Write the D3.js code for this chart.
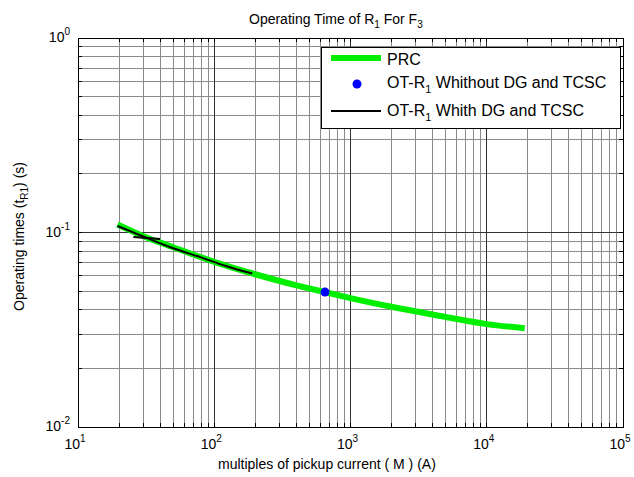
<!DOCTYPE html>
<html>
<head>
<meta charset="utf-8">
<script src="https://cdn.jsdelivr.net/npm/d3@7"></script>
<style>
  body { margin: 0; background: #fff; }
  text { font-family: Arial, "Liberation Sans", sans-serif; fill: #000; }
</style>
</head>
<body>
<svg id="chart" width="634" height="477"></svg>
<script>
// chart values
var prcCurrent = [19.5, 30, 50, 100, 200, 400, 650, 1000, 2000, 5000, 10000, 19000];
var prcTime = [0.110, 0.096, 0.084, 0.0707, 0.061, 0.0535, 0.0494, 0.046, 0.0415, 0.0368, 0.0338, 0.0322];

var noDgCurrent = [650];
var noDgTime = [0.0494];

var withDgCurrent = [19.5, 30, 50, 80, 120, 190];
var withDgTime = [0.108, 0.0955, 0.083, 0.0745, 0.0675, 0.0615];
var withDgStrayCurrent = [25.5, 40];
var withDgStrayTime = [0.0948, 0.0926];

var xTickExp = [1, 2, 3, 4, 5];
var yTickExp = [0, -1, -2];

(function() {
  var svg = d3.select('#chart');
  var pLeft = 78, pRight = 623, pTop = 38, pBottom = 427;

  var x = d3.scaleLog().domain([10, 1e5]).range([pLeft, pRight]);
  var y = d3.scaleLog().domain([0.01, 1]).range([pBottom, pTop]);

  function pairs(xs, ys) { return xs.map(function(v, i) { return [v, ys[i]]; }); }

  // minor + major values for grid
  var xMinor = [], yMinor = [];
  for (var e = 1; e < 5; e++) for (var k = 2; k < 10; k++) xMinor.push(k * Math.pow(10, e));
  for (var e2 = -2; e2 < 0; e2++) for (var k2 = 2; k2 < 10; k2++) yMinor.push(k2 * Math.pow(10, e2));
  var xMajor = xTickExp.map(function(d) { return Math.pow(10, d); });
  var yMajor = yTickExp.map(function(d) { return Math.pow(10, d); });

  var grid = svg.append('g').attr('class', 'grid').style('shape-rendering', 'crispEdges');
  grid.selectAll('.gx-minor').data(xMinor).enter().append('line')
    .attr('x1', x).attr('x2', x).attr('y1', pTop).attr('y2', pBottom)
    .style('stroke', '#8a8a8a');
  grid.selectAll('.gy-minor').data(yMinor).enter().append('line')
    .attr('x1', pLeft).attr('x2', pRight).attr('y1', y).attr('y2', y)
    .style('stroke', '#8a8a8a');
  grid.selectAll('.gx-major').data(xMajor).enter().append('line')
    .attr('x1', x).attr('x2', x).attr('y1', pTop).attr('y2', pBottom)
    .style('stroke', '#333');
  grid.selectAll('.gy-major').data(yMajor).enter().append('line')
    .attr('x1', pLeft).attr('x2', pRight).attr('y1', y).attr('y2', y)
    .style('stroke', '#333');

  // ticks on all four sides, pointing inward
  var tl = 4;
  var ticks = svg.append('g').style('stroke', '#000').style('shape-rendering', 'crispEdges');
  var allX = xMinor.concat(xMajor), allY = yMinor.concat(yMajor);
  ticks.selectAll('.tb').data(allX).enter().append('line')
    .attr('x1', x).attr('x2', x).attr('y1', pBottom).attr('y2', pBottom - tl);
  ticks.selectAll('.tt').data(allX).enter().append('line')
    .attr('x1', x).attr('x2', x).attr('y1', pTop).attr('y2', pTop + tl);
  ticks.selectAll('.tl').data(allY).enter().append('line')
    .attr('x1', pLeft).attr('x2', pLeft + tl).attr('y1', y).attr('y2', y);
  ticks.selectAll('.tr').data(allY).enter().append('line')
    .attr('x1', pRight).attr('x2', pRight - tl).attr('y1', y).attr('y2', y);

  // series
  var line = d3.line().x(function(d) { return x(d[0]); }).y(function(d) { return y(d[1]); })
    .curve(d3.curveMonotoneX);

  svg.append('path').datum(pairs(prcCurrent, prcTime))
    .attr('d', line).style('fill', 'none').style('stroke', '#00ee00').style('stroke-width', 6);

  svg.append('path').datum(pairs(withDgCurrent, withDgTime))
    .attr('d', line).style('fill', 'none').style('stroke', '#000').style('stroke-width', 2);
  svg.append('path').datum(pairs(withDgStrayCurrent, withDgStrayTime))
    .attr('d', line).style('fill', 'none').style('stroke', '#000').style('stroke-width', 2);

  svg.selectAll('.dot').data(pairs(noDgCurrent, noDgTime)).enter().append('circle')
    .attr('cx', function(d) { return x(d[0]); }).attr('cy', function(d) { return y(d[1]); })
    .attr('r', 4.5).style('fill', '#0000ff');

  // frame
  svg.append('rect').attr('x', pLeft).attr('y', pTop).attr('width', pRight - pLeft).attr('height', pBottom - pTop)
    .style('fill', 'none').style('stroke', '#000').style('shape-rendering', 'crispEdges');

  // tick labels
  var xl = svg.selectAll('.xl').data(xTickExp).enter().append('text')
    .attr('x', function(d) { return x(Math.pow(10, d)) - 3; }).attr('y', pBottom + 22)
    .attr('text-anchor', 'middle').style('font-size', '14px');
  xl.append('tspan').text('10');
  xl.append('tspan').attr('dy', -7).style('font-size', '10px').text(function(d) { return d; });

  var yl = svg.selectAll('.yl').data(yTickExp).enter().append('text')
    .attr('x', pLeft - 8).attr('y', function(d) { return y(Math.pow(10, d)) + 4; })
    .attr('text-anchor', 'end').style('font-size', '14px');
  yl.append('tspan').text('10');
  yl.append('tspan').attr('dy', -7).style('font-size', '10px').text(function(d) { return d; });

  // title and axis labels
  var title = svg.append('text').attr('x', 249).attr('y', 24).style('font-size', '14px');
  title.append('tspan').text('Operating Time of R');
  title.append('tspan').attr('dy', 4).style('font-size', '10px').text('1');
  title.append('tspan').attr('dy', -4).text(' For F');
  title.append('tspan').attr('dy', 4).style('font-size', '10px').text('3');

  svg.append('text').attr('x', 218).attr('y', 469).style('font-size', '14px')
    .text('multiples of pickup current ( M ) (A)');

  var yt = svg.append('text').attr('transform', 'translate(24,' + ((pTop + pBottom) / 2 + 4) + ') rotate(-90)')
    .attr('text-anchor', 'middle').style('font-size', '14px');
  yt.append('tspan').text('Operating times (t');
  yt.append('tspan').attr('dy', 4).style('font-size', '10px').text('R1');
  yt.append('tspan').attr('dy', -4).text(') (s)');

  // legend
  var lg = svg.append('g');
  lg.append('rect').attr('x', 321).attr('y', 47).attr('width', 299).attr('height', 81)
    .style('fill', '#fff').style('stroke', '#000').style('shape-rendering', 'crispEdges');
  lg.append('line').attr('x1', 331).attr('x2', 381).attr('y1', 58).attr('y2', 58)
    .style('stroke', '#00ee00').style('stroke-width', 6);
  lg.append('circle').attr('cx', 357).attr('cy', 84).attr('r', 4.5).style('fill', '#0000ff');
  lg.append('line').attr('x1', 331).attr('x2', 381).attr('y1', 111).attr('y2', 111)
    .style('stroke', '#000').style('stroke-width', 2);

  lg.append('text').attr('x', 387).attr('y', 65).style('font-size', '16px').text('PRC');
  var t2 = lg.append('text').attr('x', 387).attr('y', 88).style('font-size', '16px');
  t2.append('tspan').text('OT-R');
  t2.append('tspan').attr('dy', 5).style('font-size', '11px').text('1');
  t2.append('tspan').attr('dy', -5).text(' Whithout DG and TCSC');
  var t3 = lg.append('text').attr('x', 387).attr('y', 116).style('font-size', '16px');
  t3.append('tspan').text('OT-R');
  t3.append('tspan').attr('dy', 5).style('font-size', '11px').text('1');
  t3.append('tspan').attr('dy', -5).text(' Whith DG and TCSC');
})();
</script>
</body>
</html>
